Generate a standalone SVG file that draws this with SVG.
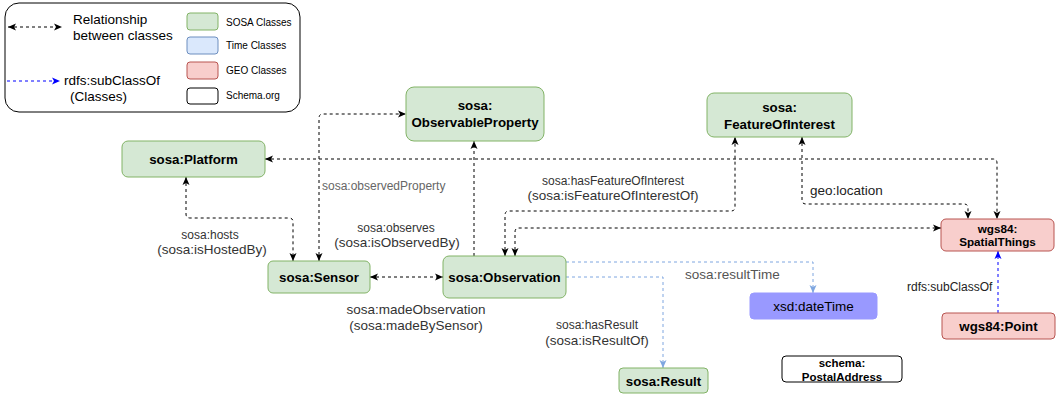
<svg xmlns="http://www.w3.org/2000/svg" width="1059" height="397" viewBox="0 0 1059 397">
<defs>
<marker id="ab" markerUnits="userSpaceOnUse" markerWidth="9" markerHeight="8" refX="8" refY="4" orient="auto-start-reverse" viewBox="0 0 9 8"><path d="M0,0.5 L8,4 L0,7.5 L2,4 z" fill="#000"/></marker>
<marker id="abl" markerUnits="userSpaceOnUse" markerWidth="9" markerHeight="8" refX="8" refY="4" orient="auto-start-reverse" viewBox="0 0 9 8"><path d="M0,0.5 L8,4 L0,7.5 L2,4 z" fill="#0000ff"/></marker>
<marker id="alb" markerUnits="userSpaceOnUse" markerWidth="9" markerHeight="8" refX="8" refY="4" orient="auto-start-reverse" viewBox="0 0 9 8"><path d="M0,0.5 L8,4 L0,7.5 L2,4 z" fill="#7ea6e0"/></marker>
</defs>
<style>
text{font-family:"Liberation Sans",Arial,sans-serif;}
.sosa{fill:#d5e8d4;stroke:#82b366;stroke-width:1;}
.time{fill:#dae8fc;stroke:#6c8ebf;stroke-width:1;}
.geo{fill:#f8cecc;stroke:#b85450;stroke-width:1;}
.sch{fill:#fff;stroke:#000;stroke-width:1;}
.nt{font-size:13.3px;font-weight:bold;fill:#000;text-anchor:middle;}
.nts{font-size:11.7px;font-weight:bold;fill:#000;text-anchor:middle;}
.rel{fill:none;stroke:#000;stroke-width:1;stroke-dasharray:3 3;marker-start:url(#ab);marker-end:url(#ab);}
.one{fill:none;stroke:#000;stroke-width:1;stroke-dasharray:3 3;marker-end:url(#ab);}
.lb{fill:none;stroke:#7ea6e0;stroke-width:1;stroke-dasharray:3 3;marker-end:url(#alb);}
.bl{fill:none;stroke:#0000ff;stroke-width:1;stroke-dasharray:3 3;marker-end:url(#abl);}
.s11{font-size:12px;fill:#333;text-anchor:middle;}
.s13{font-size:13.5px;fill:#333;text-anchor:middle;}
.lg{font-size:10px;fill:#000;}
</style>

<g id="legend">
<rect x="5" y="3" width="295" height="109" rx="14" fill="#fff" stroke="#000" stroke-width="1"/>
<path d="M8,27 H62" class="rel"/>
<text x="73" y="24" font-size="13.5" fill="#000">Relationship</text>
<text x="73" y="40" font-size="13.5" fill="#000">between classes</text>
<path d="M7,81 H60" class="bl"/>
<text x="64" y="85" font-size="13.5" fill="#000">rdfs:subClassOf</text>
<text x="70" y="101" font-size="13.5" fill="#000">(Classes)</text>
<rect x="187" y="13" width="31" height="17" rx="3" class="sosa"/>
<text x="226" y="26" class="lg">SOSA Classes</text>
<rect x="187" y="37" width="31" height="17" rx="3" class="time"/>
<text x="226" y="49" class="lg">Time Classes</text>
<rect x="187" y="62" width="31" height="17" rx="3" class="geo"/>
<text x="226" y="74" class="lg">GEO Classes</text>
<rect x="187" y="88" width="31" height="16" rx="3" class="sch"/>
<text x="226" y="99" class="lg">Schema.org</text>
</g>

<g id="connectors">
<path d="M265,159 H993 Q997,159 997,163 V219" class="rel"/>
<path d="M186,177 V214 Q186,218 190,218 H289 Q293,218 293,222 V261" class="rel"/>
<path d="M319,261 V118 Q319,114 323,114 H406" class="rel"/>
<path d="M474,256 V141" class="one"/>
<path d="M370,277 H443" class="rel"/>
<path d="M505,256 V215 Q505,211 509,211 H731 Q735,211 735,207 V137" class="rel"/>
<path d="M515,256 V232 Q515,228 519,228 H941" class="rel"/>
<path d="M802,137 V200 Q802,204 806,204 H964 Q968,204 968,208 V219" class="rel"/>
<path d="M566,262 H813 V293" class="lb"/>
<path d="M566,277 H663 V368" class="lb"/>
<path d="M998,313 V251" class="bl"/>
<text x="322" y="190" font-size="12" fill="#666">sosa:observedProperty</text>
<text x="210" y="239" class="s11">sosa:hosts</text>
<text x="212" y="254" class="s13">(sosa:isHostedBy)</text>
<text x="396" y="232" class="s11">sosa:observes</text>
<text x="397" y="247" class="s13">(sosa:isObservedBy)</text>
<text x="416" y="314" class="s13">sosa:madeObservation</text>
<text x="416" y="330" class="s13">(sosa:madeBySensor)</text>
<text x="613" y="185" class="s11">sosa:hasFeatureOfInterest</text>
<text x="613" y="200" class="s13">(sosa:isFeatureOfInterestOf)</text>
<text x="597" y="329" class="s11">sosa:hasResult</text>
<text x="597" y="345" class="s13">(sosa:isResultOf)</text>
<text x="685" y="279" font-size="13.5" fill="#555">sosa:resultTime</text>
<text x="810" y="195" font-size="13.5" fill="#222">geo:location</text>
<text x="907" y="291" font-size="12" fill="#222">rdfs:subClassOf</text>
</g>

<g id="platform"><rect x="122" y="141" width="143" height="36" rx="6" class="sosa"/><text x="193.5" y="164" class="nt">sosa:Platform</text></g>
<g id="observableProperty"><rect x="406" y="87" width="138" height="54" rx="8" class="sosa"/><text x="475" y="110" class="nt">sosa:</text><text x="475" y="127" class="nt">ObservableProperty</text></g>
<g id="featureOfInterest"><rect x="707" y="93" width="145" height="44" rx="7" class="sosa"/><text x="779.5" y="112" class="nt">sosa:</text><text x="779.5" y="129" class="nt">FeatureOfInterest</text></g>
<g id="sensor"><rect x="268" y="261" width="102" height="32" rx="5" class="sosa"/><text x="319" y="282" class="nt">sosa:Sensor</text></g>
<g id="observation"><rect x="443" y="256" width="123" height="42" rx="6" class="sosa"/><text x="504.5" y="282" class="nt">sosa:Observation</text></g>
<g id="dateTime"><rect x="750" y="293" width="127" height="26" rx="4" fill="#9999ff" stroke="#9999ff"/><text x="813.5" y="311" font-size="13.5" fill="#000" text-anchor="middle">xsd:dateTime</text></g>
<g id="result"><rect x="619" y="368" width="89" height="25" rx="4" class="sosa"/><text x="663.5" y="386" class="nt">sosa:Result</text></g>
<g id="postalAddress"><rect x="782" y="356" width="120" height="26" rx="4" class="sch"/><text x="842" y="367" font-size="11.5" font-weight="bold" text-anchor="middle" fill="#000">schema:</text><text x="842" y="381" font-size="11.5" font-weight="bold" text-anchor="middle" fill="#000">PostalAddress</text></g>
<g id="spatialThings"><rect x="941" y="219" width="113" height="32" rx="5" class="geo"/><text x="997.5" y="233" class="nts">wgs84:</text><text x="997.5" y="246" class="nts">SpatialThings</text></g>
<g id="point"><rect x="942" y="313" width="113" height="26" rx="4" class="geo"/><text x="998.5" y="331" class="nt">wgs84:Point</text></g>
</svg>
